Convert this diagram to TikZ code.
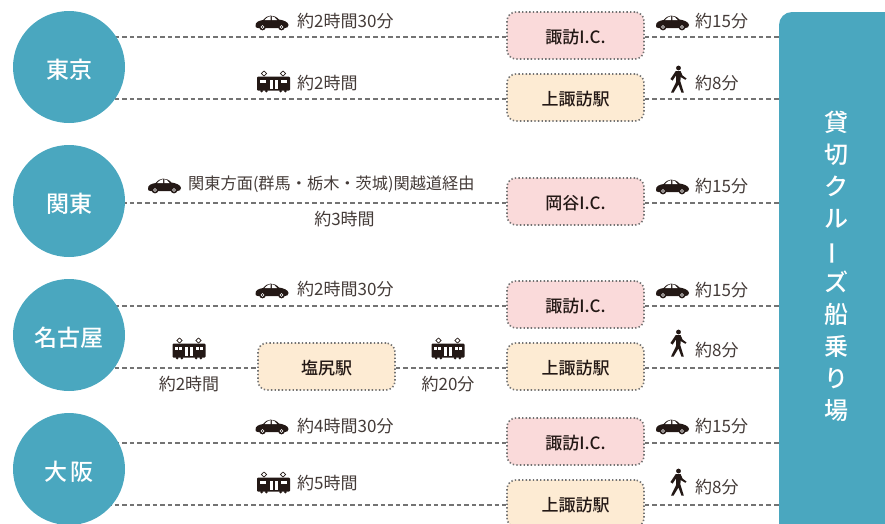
\documentclass[tikz,border=0pt]{standalone}
\usepackage{fontspec}
\usepackage{graphicx}
\setmainfont{Noto Sans CJK JP}
\newfontfamily\medf{Noto Sans CJK JP Medium}
\usetikzlibrary{backgrounds}
\definecolor{teal1}{HTML}{4AA7BF}
\definecolor{pinkbox}{HTML}{FADADA}
\definecolor{creambox}{HTML}{FDEBD3}
\definecolor{dashc}{HTML}{737373}
\definecolor{ink}{HTML}{231815}
\tikzset{
  x=1pt,y=-1pt,
  city/.style={circle,fill=teal1,minimum size=112pt,inner sep=0pt,text=white,text height=23pt,text depth=0pt,font=\fontsize{23}{23}\selectfont\medf},
  stopbox/.style={rectangle,rounded corners=9pt,draw=dashc,line width=1.6pt,dash pattern=on 1.4pt off 2.2pt,minimum width=137pt,minimum height=47pt,inner sep=0pt,text=ink,text height=16pt,text depth=0pt,font=\fontsize{17}{17}\selectfont\medf},
  ic/.style={stopbox,fill=pinkbox},
  sta/.style={stopbox,fill=creambox},
  lnk/.style={draw=dashc,line width=1.6pt,dash pattern=on 4.6pt off 3pt},
  lab/.style={inner sep=0pt,text=ink!85,font=\fontsize{17}{18}\selectfont,anchor=west},
  labc/.style={lab,anchor=center},
  car/.pic={
    \fill[ink] (-16.5,4) .. controls (-16.5,0) and (-14,-1) .. (-9,-2)
      .. controls (-5,-7.5) and (2,-8) .. (7,-2.5)
      .. controls (11,-2) and (16.5,0) .. (16.5,3)
      .. controls (16.5,5) and (15,6) .. (13,6) -- (-14,6) .. controls (-16,6) and (-16.5,5) .. cycle;
    \fill[white] (-7.5,-2) .. controls (-5,-5) and (-2,-5.8) .. (-1.5,-5.8) -- (-1.5,-2) -- cycle;
    \fill[white] (-0.2,-5.8) .. controls (2,-5.8) and (3.5,-4) .. (5,-2) -- (-0.2,-2) -- cycle;
    \foreach \q in {-9.5,9.5}{\fill[ink] (\q,5) circle (3.4); \fill[white] (\q,5) circle (1.9); \fill[ink] (\q,5) circle (0.9);}
  },
  train/.pic={
    \fill[ink,rounded corners=1pt] (-16.5,-6.5) rectangle (16.5,7.5);
    \foreach \q in {-9.5,9.5}{\fill[ink] (\q-2.4,8) circle (1.5); \fill[ink] (\q+2.4,8) circle (1.5);
      \draw[ink,line width=.7pt] (\q,-7) -- (\q-2.6,-9.5) -- (\q,-12) -- (\q+2.6,-9.5) -- cycle;}
    \foreach \q in {-13.6,-10.2,7.4,10.8}{\fill[white] (\q,-3.2) rectangle +(2.8,3);}
    \fill[white] (-4,-3.5) rectangle (-1,5.5);
    \fill[white] (1,-3.5) rectangle (4,5.5);
  },
  walker/.pic={
    \fill[ink] (0.5,-12) circle (2.4);
    \fill[ink] (-2.2,-9) -- (2.6,-9) -- (4.5,-4.5) -- (8.5,-1.5) -- (7.4,-0.2) -- (2.6,-3) -- (2.4,1.5) -- (5.8,12.5) -- (3.4,12.5) -- (0.4,4.5) -- (-4.4,12.5) -- (-7,12.5) -- (-2,2.2) -- (-2,-4.5) -- (-5.4,0.6) -- (-7.6,-1) -- cycle;
  }
}
\begin{document}
\begin{tikzpicture}
\useasboundingbox (0,0) rectangle (885,523);
\clip (0,0) rectangle (885,523);
% cities
\node[city] (tokyo) at (69,67) {東京};
\node[city] (kanto) at (69,201) {関東};
\node[city] (nagoya) at (69,335) {名古屋};
\node[city] (osaka) at (69,469) {大\hspace{3pt}阪};
% parking
\fill[teal1,rounded corners=13pt] (779,12) rectangle (905,543);
\coordinate (dest) at (779,300);
\node[inner sep=0pt,text=white,align=center,font=\fontsize{24}{32}\selectfont\medf] (title) at (836,266) {貸\\切\\ク\\ル\\\rotatebox[origin=c]{90}{ー}\\ズ\\船\\乗\\り\\場};
% stops
\node[ic] (a1) at (575.5,35.5) {諏訪I.C.};
\node[sta] (a2) at (575.5,97.5) {上諏訪駅};
\node[ic] (b1) at (575.5,201.5) {岡谷I.C.};
\node[ic] (c1) at (575.5,304.5) {諏訪I.C.};
\node[sta] (c2) at (575.5,366.5) {上諏訪駅};
\node[sta,minimum width=137pt] (c3) at (326.5,366.5) {塩尻駅};
\node[ic] (d1) at (575.5,441.5) {諏訪I.C.};
\node[sta] (d2) at (575.5,503.5) {上諏訪駅};
% connectors
\begin{scope}[on background layer]
\foreach \c/\s in {tokyo/a1,tokyo/a2,kanto/b1,nagoya/c1,nagoya/c3,osaka/d1,osaka/d2}
  \draw[lnk] ([yshift=-1.5pt]\c.center |- \s.west) -- ([yshift=-1.5pt]\s.west);
\draw[lnk] ([yshift=-1.5pt]c3.east) -- ([yshift=-1.5pt]c2.west);
\foreach \s in {a1,a2,b1,c1,c2,d1,d2}
  \draw[lnk] ([yshift=-1.5pt]\s.east) -- ([yshift=-1.5pt]dest |- \s.east);
\end{scope}
% left icons and labels
\pic at (272,22) {car};
\node[lab] (t1) at (297,21) {約2時間30分};
\pic at (273.5,83) {train};
\node[lab] (t2) at (297,83) {約2時間};
\pic at (164.5,185) {car};
\node[lab,font=\fontsize{16.2}{18}\selectfont] (t3) at (188,184) {関東方面(群馬・栃木・茨城)関越道経由};
\node[labc] (t4) at (344.5,219) {約3時間};
\pic at (272,290) {car};
\node[lab] (t5) at (297,289) {約2時間30分};
\pic at (189,350) {train};
\node[labc] (t6) at (189,384) {約2時間};
\pic at (448,350) {train};
\node[labc] (t7) at (448,384) {約20分};
\pic at (272,426) {car};
\node[lab] (t8) at (297,426) {約4時間30分};
\pic at (273.5,484) {train};
\node[lab] (t9) at (297,483) {約5時間};
% right icons and labels
\pic at (672.5,22) {car};
\node[lab] (r1) at (695,21) {約15分};
\pic at (678,80) {walker};
\node[lab] (r2) at (695,83) {約8分};
\pic at (672.5,186) {car};
\node[lab] (r3) at (695,186) {約15分};
\pic at (672.5,290) {car};
\node[lab] (r4) at (695,290) {約15分};
\pic at (678,344) {walker};
\node[lab] (r5) at (695,350) {約8分};
\pic at (672.5,426) {car};
\node[lab] (r6) at (695,426) {約15分};
\pic at (678,483) {walker};
\node[lab] (r7) at (695,487) {約8分};
\end{tikzpicture}
\end{document}
